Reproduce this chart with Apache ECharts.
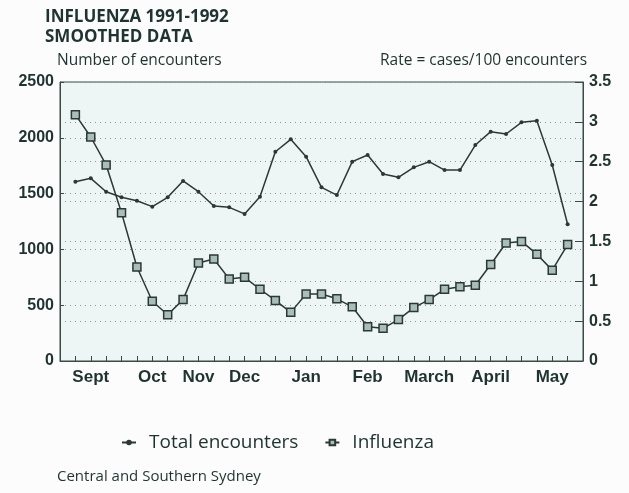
<!DOCTYPE html>
<html>
<head>
<meta charset="utf-8">
<script src="https://cdn.jsdelivr.net/npm/echarts@6/dist/echarts.min.js"></script>
<style>
html,body{margin:0;padding:0;background:#fbfcfb;}
#chart{width:629px;height:493px;}
</style>
</head>
<body>
<div id="chart"></div>
<script>
// week index 0..32 (weekly points, Sept 1991 - May 1992)
var totalEncounters = [1607,1637,1517,1467,1436,1383,1467,1613,1517,1389,1377,1318,1472,1875,1986,1831,1556,1487,1786,1846,1676,1646,1735,1786,1711,1711,1935,2055,2034,2139,2153,1756,1225];
var influenzaRate = [3.09,2.81,2.46,1.86,1.18,0.75,0.58,0.77,1.23,1.28,1.03,1.05,0.90,0.76,0.61,0.84,0.84,0.78,0.68,0.43,0.41,0.52,0.67,0.77,0.90,0.93,0.95,1.21,1.48,1.50,1.34,1.14,1.46];
var monthLabels = ['Sept','Oct','Nov','Dec','Jan','Feb','March','April','May'];
var monthWeekIndex = [1,5,8,11,15,19,23,27,31];
var leftTicks = [0,500,1000,1500,2000,2500];
var rightTicks = [0,0.5,1,1.5,2,2.5,3,3.5];

var weekIdx = totalEncounters.map(function(_, i){ return i; });
var monthMap = {};
monthWeekIndex.forEach(function(w, i){ monthMap[w] = monthLabels[i]; });

var dark = '#1f3330';
var chart = echarts.init(document.getElementById('chart'), null, {renderer:'canvas'});
chart.setOption({
  backgroundColor: '#fbfcfb',
  animation: false,
  title: {
    text: 'INFLUENZA 1991-1992\nSMOOTHED DATA',
    left: 40, top: 2,
    textStyle: {fontFamily:'Open Sans', fontWeight:'bold', fontSize:17, lineHeight:20, color:dark}
  },
  graphic: [
    {type:'text', left:57, top:53, style:{text:'Number of encounters', fontFamily:'Open Sans', fontSize:15.5, fill:dark}},
    {type:'text', left:380, top:53, style:{text:'Rate = cases/100 encounters', fontFamily:'Open Sans', fontSize:15.5, fill:dark}},
    {type:'text', left:57, top:469, style:{text:'Central and Southern Sydney', fontFamily:'Open Sans', fontSize:15, fill:dark}}
  ],
  legend: {
    top: 428, left: 116,
    itemGap: 26, itemWidth: 14, itemHeight: 7,
    textStyle: {fontFamily:'Open Sans', fontSize:19, color:dark, padding:[0,0,0,8]},
    data: ['Total encounters','Influenza']
  },
  grid: {left:60, right:46, top:82, bottom:132, show:true, backgroundColor:'#edf6f4', borderColor:'#3a4a47', borderWidth:1},
  xAxis: {
    type: 'value', min: -1, max: 33,
    axisLine: {show:true, onZero:false, lineStyle:{color:'#3a4a47'}},
    splitLine: {show:false},
    axisTick: {show:true, inside:true, length:5, customValues: weekIdx, lineStyle:{color:'#3a4a47'}},
    axisLabel: {
      customValues: monthWeekIndex,
      formatter: function(v){ return monthMap[v] || ''; },
      fontFamily:'Liberation Sans', fontWeight:'bold', fontSize:17, color:dark, margin:8
    }
  },
  yAxis: [
    {
      type:'value', min:0, max:2500, interval:500, position:'left',
      axisLine:{show:true, onZero:false, lineStyle:{color:'#3a4a47'}},
      axisTick:{show:true, inside:true, length:4, lineStyle:{color:'#3a4a47'}},
      axisLabel:{fontFamily:'Liberation Sans', fontWeight:'bold', fontSize:16, color:dark, margin:6,
        formatter:function(v){ return leftTicks.indexOf(v) >= 0 ? String(v) : ''; }},
      splitLine:{show:true, lineStyle:{color:'#8a9491', type:[1,4], width:1}}
    },
    {
      type:'value', min:0, max:3.5, interval:0.5, position:'right',
      axisLine:{show:true, onZero:false, lineStyle:{color:'#3a4a47'}},
      axisTick:{show:true, inside:true, length:8, lineStyle:{color:'#3a4a47'}},
      axisLabel:{fontFamily:'Liberation Sans', fontWeight:'bold', fontSize:16, color:dark, margin:6,
        formatter:function(v){ return rightTicks.indexOf(v) >= 0 ? String(v) : ''; }},
      splitLine:{show:true, lineStyle:{color:'#8a9491', type:[1,4], width:1}}
    }
  ],
  series: [
    {
      name:'Total encounters', type:'line', yAxisIndex:0,
      data: weekIdx.map(function(i){ return [i, totalEncounters[i]]; }),
      symbol:'circle', symbolSize:4,
      lineStyle:{color:'#2b3836', width:1.5},
      itemStyle:{color:'#2b3836'}
    },
    {
      name:'Influenza', type:'line', yAxisIndex:1,
      data: weekIdx.map(function(i){ return [i, influenzaRate[i]]; }),
      symbol:'rect', symbolSize:8,
      lineStyle:{color:'#2b3836', width:1.5},
      itemStyle:{color:'#a9bfb6', borderColor:'#2b3836', borderWidth:1.5}
    }
  ]
});
</script>
</body>
</html>
